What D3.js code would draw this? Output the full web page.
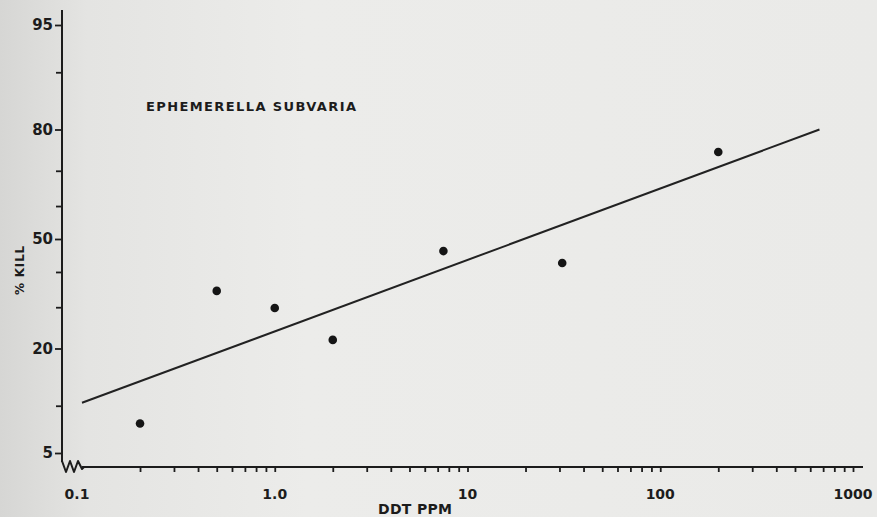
<!DOCTYPE html>
<html>
<head>
<meta charset="utf-8">
<script src="https://cdn.jsdelivr.net/npm/d3@7"></script>
<style>
  html, body { margin: 0; padding: 0; }
  body { width: 877px; height: 517px; overflow: hidden; }
  text { fill: #1c1c1c; }
</style>
</head>
<body>
<script>
// mortality of Ephemerella subvaria vs DDT dose
var doses = [0.2, 0.5, 1.0, 2.0, 7.5, 31, 200];
var kills = [7.8, 34.5, 29.8, 21.9, 46.3, 42.7, 74.8];

// fitted probit line, two ends
var fitDoses = [0.1, 670];
var fitKills = [10.4, 80];

var yMajor = [5, 20, 50, 80, 95];
var yMinor = [10, 30, 40, 60, 70, 90];
var xMajor = [0.1, 1, 10, 100, 1000];
var xLabels = ['0.1', '1.0', '10', '100', '1000'];

var WIDTH = 877;
var HEIGHT = 517;
var AXIS_X = 62;
var AXIS_Y = 467;

// inverse normal cdf (Acklam)
function probit(p){
    var a = [-39.69683028665376, 220.9460984245205, -275.9285104469687, 138.3577518672690, -30.66479806614716, 2.506628277459239];
    var b = [-54.47609879822406, 161.5858368580409, -155.6989798598866, 66.80131188771972, -13.28068155288572];
    var c = [-0.007784894002430293, -0.3223964580411365, -2.400758277161838, -2.549732539343734, 4.374664141464968, 2.938163982698783];
    var d = [0.007784695709041462, 0.3224671290700398, 2.445134137142996, 3.754408661907416];
    var q, r;
    if (p < 0.02425){
        q = Math.sqrt(-2*Math.log(p));
        return (((((c[0]*q+c[1])*q+c[2])*q+c[3])*q+c[4])*q+c[5]) / ((((d[0]*q+d[1])*q+d[2])*q+d[3])*q+1);
    }
    if (p > 1 - 0.02425){
        q = Math.sqrt(-2*Math.log(1-p));
        return -(((((c[0]*q+c[1])*q+c[2])*q+c[3])*q+c[4])*q+c[5]) / ((((d[0]*q+d[1])*q+d[2])*q+d[3])*q+1);
    }
    q = p - 0.5;
    r = q*q;
    return (((((a[0]*r+a[1])*r+a[2])*r+a[3])*r+a[4])*r+a[5])*q / (((((b[0]*r+b[1])*r+b[2])*r+b[3])*r+b[4])*r+1);
}

var x = d3.scaleLog().domain([0.1, 1000]).range([82, 853]);
var yz = d3.scaleLinear().domain([probit(0.05), probit(0.95)]).range([453, 25]);
function y(pct){ return yz(probit(pct/100)); }

var svg = d3.select('body').append('svg')
    .attr('width', WIDTH)
    .attr('height', HEIGHT);

// paper
var grad = svg.append('defs').append('linearGradient')
    .attr('id', 'paper')
    .attr('x1', 0).attr('x2', 1).attr('y1', 0).attr('y2', 0);
grad.append('stop').attr('offset', '0%').attr('stop-color', '#d6d6d4');
grad.append('stop').attr('offset', '10%').attr('stop-color', '#e4e4e2');
grad.append('stop').attr('offset', '35%').attr('stop-color', '#ececea');
grad.append('stop').attr('offset', '100%').attr('stop-color', '#eaeae8');
svg.append('rect')
    .attr('width', WIDTH)
    .attr('height', HEIGHT)
    .attr('fill', 'url(#paper)');

// y axis
var yAxisG = svg.append('g')
    .attr('transform', 'translate(' + AXIS_X + ',0)');
yAxisG.call(d3.axisLeft(yz)
    .tickValues(yMajor.map(function(p){ return probit(p/100); }))
    .tickFormat(function(d, i){ return yMajor[i]; })
    .tickSize(7)
    .tickSizeOuter(0)
    .tickPadding(2));
yAxisG.append('g').call(d3.axisLeft(yz)
    .tickValues(yMinor.map(function(p){ return probit(p/100); }))
    .tickFormat('')
    .tickSize(6)
    .tickSizeOuter(0));
yAxisG.selectAll('.domain').remove();
yAxisG.append('line')
    .attr('x1', 0).attr('x2', 0)
    .attr('y1', 10).attr('y2', 462)
    .attr('stroke', '#1c1c1c')
    .attr('stroke-width', 2);
yAxisG.selectAll('.tick line')
    .attr('stroke', '#1c1c1c')
    .attr('stroke-width', 1.8);
yAxisG.selectAll('.tick text')
    .attr('font-family', 'DejaVu Sans')
    .attr('font-weight', 'bold')
    .attr('font-size', 15)
    .attr('fill', '#1c1c1c');

// x axis
var xAxisG = svg.append('g')
    .attr('transform', 'translate(0,' + AXIS_Y + ')');
var xMinor = [];
d3.range(-1, 3).forEach(function(e){
    d3.range(2, 11).forEach(function(m){ xMinor.push(m * Math.pow(10, e)); });
});
xAxisG.call(d3.axisBottom(x)
    .tickValues(xMinor)
    .tickFormat('')
    .tickSize(5)
    .tickSizeOuter(0));
xAxisG.selectAll('.domain').remove();
xAxisG.append('line')
    .attr('x1', 82).attr('x2', 863)
    .attr('y1', 0).attr('y2', 0)
    .attr('stroke', '#1c1c1c')
    .attr('stroke-width', 2);
xAxisG.selectAll('.tick line')
    .attr('stroke', '#1c1c1c')
    .attr('stroke-width', 1.8);
xAxisG.selectAll('.xlab').data(xMajor).enter()
    .append('text')
    .attr('class', 'xlab')
    .attr('x', function(d, i){ return x(d) - (i === 0 ? 5 : 0); })
    .attr('y', 32)
    .attr('text-anchor', 'middle')
    .attr('font-family', 'DejaVu Sans')
    .attr('font-weight', 'bold')
    .attr('font-size', 14)
    .text(function(d, i){ return xLabels[i]; });

// axis break squiggle
svg.append('path')
    .attr('d', 'M62,461 L66,472 L70,461 L74,472 L78,461 L82,469 L84,467')
    .attr('fill', 'none')
    .attr('stroke', '#1c1c1c')
    .attr('stroke-width', 2)
    .attr('stroke-linejoin', 'round');

// fitted line
var line = d3.line()
    .x(function(d){ return x(d[0]); })
    .y(function(d){ return y(d[1]); });
svg.append('path')
    .datum(d3.zip(fitDoses, fitKills))
    .attr('d', line)
    .attr('fill', 'none')
    .attr('stroke', '#222')
    .attr('stroke-width', 2);

// observations
svg.selectAll('.obs').data(d3.zip(doses, kills)).enter()
    .append('circle')
    .attr('class', 'obs')
    .attr('cx', function(d){ return x(d[0]); })
    .attr('cy', function(d){ return y(d[1]); })
    .attr('r', 4.3)
    .attr('fill', '#151515');

// labels
svg.append('text')
    .attr('x', 146)
    .attr('y', 111)
    .attr('font-family', 'DejaVu Sans')
    .attr('font-weight', 'bold')
    .attr('font-size', 13)
    .attr('textLength', 210)
    .attr('lengthAdjust', 'spacing')
    .text('EPHEMERELLA SUBVARIA');

svg.append('text')
    .attr('transform', 'translate(24,270) rotate(-90)')
    .attr('text-anchor', 'middle')
    .attr('font-family', 'DejaVu Sans')
    .attr('font-weight', 'bold')
    .attr('font-size', 12)
    .attr('letter-spacing', 0.8)
    .text('% KILL');

svg.append('text')
    .attr('x', 378)
    .attr('y', 514)
    .attr('font-family', 'DejaVu Sans')
    .attr('font-weight', 'bold')
    .attr('font-size', 14)
    .attr('textLength', 74)
    .attr('lengthAdjust', 'spacing')
    .text('DDT PPM');
</script>
</body>
</html>
